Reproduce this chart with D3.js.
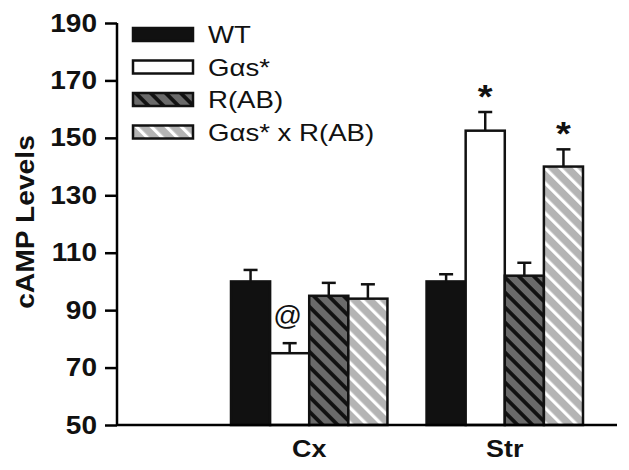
<!DOCTYPE html>
<html>
<head>
<meta charset="utf-8">
<script src="https://cdn.jsdelivr.net/npm/d3@7"></script>
<style>
  body { margin: 0; background: #fff; }
  text { font-family: "Liberation Sans", Arial, sans-serif; fill: #111; }
</style>
</head>
<body>
<div class="chart"></div>
<script>
// data
var groups = ["Cx", "Str"];
var series = ["WT", "Gαs*", "R(AB)", "Gαs* x R(AB)"];
var wtMean = [100, 100];
var wtErr = [4, 2.5];
var gasMean = [75, 152.5];
var gasErr = [3.5, 6.5];
var rabMean = [95, 102];
var rabErr = [4.5, 4.5];
var comboMean = [94, 140];
var comboErr = [5, 6];
var yTicks = [50, 70, 90, 110, 130, 150, 170, 190];
// significance marks: [group, series, symbol]
var marks = [["Cx", "Gαs*", "@"], ["Str", "Gαs*", "*"], ["Str", "Gαs* x R(AB)", "*"]];

(function() {
    var width = 629, height = 470;
    var stretch = 1.12;

    var svg = d3.select(".chart").append("svg")
        .attr("width", width)
        .attr("height", height);

    var defs = svg.append("defs");

    function hatch(id, bg, fg, w) {
        var p = defs.append("pattern")
            .attr("id", id)
            .attr("patternUnits", "userSpaceOnUse")
            .attr("width", 10.6)
            .attr("height", 10.6)
            .attr("patternTransform", "rotate(-45)");
        p.append("rect").attr("width", 10.6).attr("height", 10.6).attr("fill", bg);
        p.append("rect").attr("x", 0).attr("width", w).attr("height", 10.6).attr("fill", fg);
    }
    hatch("hatch-dark", "#6a6a6a", "#111", 3.8);
    hatch("hatch-light", "#b4b4b4", "#fff", 3.2);

    var fills = {
        "WT": "#111",
        "Gαs*": "#fff",
        "R(AB)": "url(#hatch-dark)",
        "Gαs* x R(AB)": "url(#hatch-light)"
    };

    var rows = [];
    var means = [wtMean, gasMean, rabMean, comboMean];
    var errs = [wtErr, gasErr, rabErr, comboErr];
    groups.forEach(function(g, gi) {
        series.forEach(function(s, si) {
            rows.push({group: g, series: s, mean: means[si][gi], err: errs[si][gi]});
        });
    });

    var y = d3.scaleLinear().domain([50, 190]).range([425, 23]);
    var x0 = d3.scaleBand().domain(groups).range([231, 583]).paddingInner(0.2);
    var x1 = d3.scaleBand().domain(series).range([0, x0.bandwidth()]);

    // bars
    var bars = svg.append("g");
    bars.selectAll("rect")
        .data(rows)
        .enter().append("rect")
        .attr("x", function(d) { return x0(d.group) + x1(d.series); })
        .attr("y", function(d) { return y(d.mean); })
        .attr("width", x1.bandwidth())
        .attr("height", function(d) { return y(50) - y(d.mean); })
        .attr("fill", function(d) { return fills[d.series]; })
        .attr("stroke", "#111")
        .attr("stroke-width", 2.5);

    // error bars
    var eb = svg.append("g").attr("stroke", "#111").attr("stroke-width", 2.5);
    rows.forEach(function(d) {
        var cx = x0(d.group) + x1(d.series) + x1.bandwidth() / 2;
        eb.append("line").attr("x1", cx).attr("x2", cx)
            .attr("y1", y(d.mean)).attr("y2", y(d.mean + d.err));
        eb.append("line").attr("x1", cx - 7).attr("x2", cx + 7)
            .attr("y1", y(d.mean + d.err)).attr("y2", y(d.mean + d.err));
    });

    // significance marks
    marks.forEach(function(m) {
        var d = rows.filter(function(r) { return r.group == m[0] && r.series == m[1]; })[0];
        var cx = x0(d.group) + x1(d.series) + x1.bandwidth() / 2;
        var top = y(d.mean + d.err);
        if (m[2] == "*") {
            svg.append("text")
                .attr("transform", "translate(" + cx + "," + (top - 4) + ") scale(" + stretch + ",1)")
                .attr("text-anchor", "middle")
                .style("font-size", "34px")
                .style("font-weight", "bold")
                .text(m[2]);
        } else {
            svg.append("text")
                .attr("transform", "translate(" + (cx - 2) + "," + (top - 18) + ") scale(1.05,1)")
                .attr("text-anchor", "middle")
                .style("font-size", "27px")
                .text(m[2]);
        }
    });

    // y axis
    var yAxis = svg.append("g")
        .attr("transform", "translate(117,0)")
        .call(d3.axisLeft(y).tickValues(yTicks).tickSize(12).tickPadding(8));
    yAxis.select(".domain").attr("stroke-width", 2.5).attr("d", "M0," + y(190) + "V" + y(50));
    yAxis.selectAll(".tick line").attr("stroke-width", 2.5);
    yAxis.selectAll(".tick text")
        .attr("x", null)
        .attr("transform", "translate(-20,0) scale(" + stretch + ",1)")
        .style("font-size", "25px")
        .style("font-weight", "bold")
        .style("font-family", "'Liberation Sans', Arial, sans-serif")
        .attr("fill", "#111");

    // x axis
    var xAxis = svg.append("g")
        .attr("transform", "translate(0,425)")
        .call(d3.axisBottom(x0).tickSize(0).tickPadding(10));
    xAxis.select(".domain").attr("stroke-width", 2.5).attr("d", "M117,0H617");
    xAxis.selectAll(".tick text")
        .attr("y", null).attr("dy", null)
        .attr("transform", "translate(0,32) scale(" + stretch + ",1)")
        .style("font-size", "24px")
        .style("font-weight", "bold")
        .style("font-family", "'Liberation Sans', Arial, sans-serif")
        .attr("fill", "#111");

    // y label
    svg.append("text")
        .attr("transform", "translate(34,222) rotate(-90) scale(1.13,1)")
        .attr("text-anchor", "middle")
        .style("font-size", "25px")
        .style("font-weight", "bold")
        .text("cAMP Levels");

    // legend
    var legend = svg.append("g").selectAll("g")
        .data(series)
        .enter().append("g")
        .attr("transform", function(d, i) { return "translate(133," + (28 + i * 32.5) + ")"; });
    legend.append("rect")
        .attr("width", 60)
        .attr("height", 13)
        .attr("fill", function(d) { return fills[d]; })
        .attr("stroke", "#111")
        .attr("stroke-width", 2.5);
    legend.append("text")
        .attr("transform", "translate(75,15) scale(1.2,1)")
        .style("font-size", "23px")
        .style("font-weight", 500)
        .text(function(d) { return d; });
})();
</script>
</body>
</html>
